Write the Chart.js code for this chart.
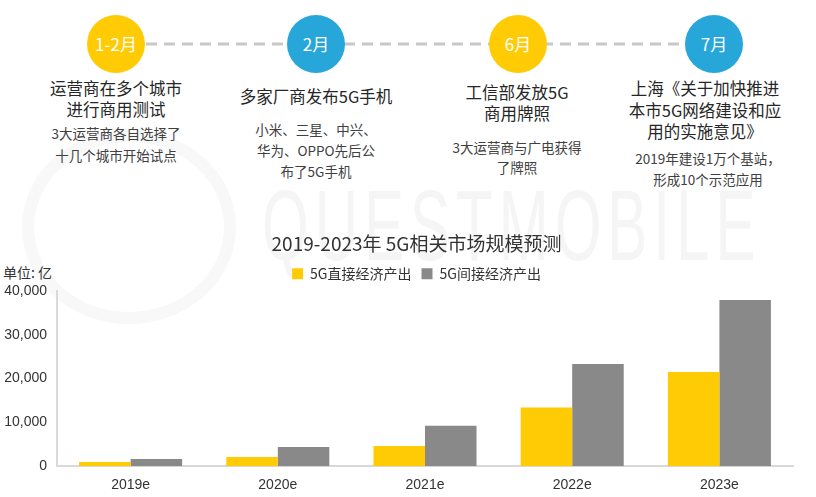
<!DOCTYPE html>
<html lang="zh">
<head>
  <meta charset="UTF-8" />
  <title>2019-2023年 5G相关市场规模预测</title>
  <script src="https://cdn.jsdelivr.net/npm/chart.js"></script>
  <style>
    body {
      margin: 0;
      padding: 0;
      background: #fff;
      font-family: 'Noto Sans CJK SC', sans-serif;
      color: #262626;
    }
    .page {
      position: relative;
      width: 816px;
      height: 497px;
      overflow: hidden;
    }
    /* faint watermark */
    .watermark {
      position: absolute;
      left: 262px;
      top: 168px;
      font-family: 'Liberation Sans', sans-serif;
      font-size: 100px;
      letter-spacing: 10px;
      color: #f5f5f5;
      white-space: nowrap;
      transform: scaleX(0.6);
      transform-origin: left top;
    }
    .ring {
      position: absolute;
      left: 22px;
      top: 130px;
      width: 190px;
      height: 170px;
      border: 12px solid #f8f8f8;
      border-radius: 50%;
    }
    .timeline {
      position: absolute;
      left: 0;
      top: 0;
    }
    .dot {
      position: absolute;
      width: 58px;
      height: 58px;
      border-radius: 50%;
      color: #fff;
      font-size: 17px;
      line-height: 58px;
      text-align: center;
    }
    .yellow { background: #ffcb05; }
    .blue { background: #27a6da; }
    .head, .sub {
      position: absolute;
      width: 220px;
      text-align: center;
      white-space: nowrap;
    }
    .head {
      font-size: 16.5px;
      line-height: 21px;
      color: #262626;
    }
    .sub {
      font-size: 13.5px;
      line-height: 21px;
      color: #404040;
    }
    .unit {
      position: absolute;
      left: 3px;
      top: 262px;
      font-size: 14px;
      color: #333;
    }
    .chart-box {
      position: absolute;
      left: 0;
      top: 225px;
      width: 816px;
      height: 286px;
    }
  </style>
</head>
<body>
  <div class="page">
    <div class="ring"></div>
    <div class="watermark">QUESTMOBILE</div>

    <!-- timeline -->
    <svg class="timeline" width="816" height="90">
      <line x1="146" y1="44" x2="686" y2="44" stroke="#c8c8c8" stroke-width="3" stroke-dasharray="11 7" />
    </svg>
    <div class="dot yellow" style="left:87px; top:15px;">1-2月</div>
    <div class="dot blue" style="left:287px; top:15px;">2月</div>
    <div class="dot yellow" style="left:489px; top:15px;">6月</div>
    <div class="dot blue" style="left:685px; top:15px;">7月</div>

    <div class="head" style="left:6px; top:78px;">运营商在多个城市<br>进行商用测试</div>
    <div class="sub" style="left:6px; top:122px; line-height:22px;">3大运营商各自选择了<br>十几个城市开始试点</div>

    <div class="head" style="left:206px; top:86px;">多家厂商发布5G手机</div>
    <div class="sub" style="left:206px; top:119px;">小米、三星、中兴、<br>华为、OPPO先后公<br>布了5G手机</div>

    <div class="head" style="left:407px; top:82px;">工信部发放5G<br>商用牌照</div>
    <div class="sub" style="left:407px; top:137px; line-height:20px;">3大运营商与广电获得<br>了牌照</div>

    <div class="head" style="left:595px; top:78px; line-height:21.5px;">上海《关于加快推进<br>本市5G网络建设和应<br>用的实施意见》</div>
    <div class="sub" style="left:598px; top:148px;">2019年建设1万个基站，<br>形成10个示范应用</div>

    <div class="unit">单位: 亿</div>
    <div class="chart-box"><canvas id="marketChart"></canvas></div>
  </div>

  <script>
    // data (亿元)
    const years = ['2019e', '2020e', '2021e', '2022e', '2023e'];
    const directOutput = [950, 2100, 4600, 13400, 21500];
    const indirectOutput = [1650, 4400, 9200, 23300, 37900];
    const yTicks = [0, 10000, 20000, 30000, 40000];

    // nudge title + legend right so they sit centred like the original
    const shiftHeader = {
      id: 'shiftHeader',
      afterLayout(chart) {
        [chart.titleBlock, chart.legend].forEach(box => {
          if (box) { box.left += 20; box.right += 20; }
        });
      }
    };

    const ctx = document.getElementById('marketChart').getContext('2d');
    new Chart(ctx, {
      type: 'bar',
      data: {
        labels: years,
        datasets: [
          {
            label: '5G直接经济产出',
            data: directOutput,
            backgroundColor: '#ffcb05',
            categoryPercentage: 0.7,
            barPercentage: 1.0
          },
          {
            label: '5G间接经济产出',
            data: indirectOutput,
            backgroundColor: '#898989',
            categoryPercentage: 0.7,
            barPercentage: 1.0
          }
        ]
      },
      plugins: [shiftHeader],
      options: {
        responsive: true,
        maintainAspectRatio: false,
        animation: false,
        layout: { padding: { left: 0, right: 23, top: 4, bottom: 6 } },
        scales: {
          x: {
            grid: { display: false, drawTicks: false },
            border: { color: '#d9d9d9', width: 2 },
            ticks: {
              color: '#333',
              font: { family: 'Liberation Sans', size: 14 },
              padding: 11
            }
          },
          y: {
            min: 0,
            max: yTicks[yTicks.length - 1],
            afterBuildTicks: axis => { axis.ticks = yTicks.map(v => ({ value: v })); },
            afterFit: axis => { axis.width = 57; },
            grid: { display: false, drawTicks: false },
            border: { color: '#d9d9d9', width: 2 },
            ticks: {
              color: '#333',
              font: { family: 'Liberation Sans', size: 14 },
              padding: 10,
              callback: v => v.toLocaleString('en-US')
            }
          }
        },
        plugins: {
          title: {
            display: true,
            text: '2019-2023年 5G相关市场规模预测',
            color: '#333',
            font: { family: 'Noto Sans CJK SC', size: 19, weight: 'normal' },
            padding: { top: 3, bottom: 2 }
          },
          legend: {
            position: 'top',
            labels: {
              boxWidth: 11,
              boxHeight: 11,
              color: '#333',
              padding: 10,
              font: { family: 'Noto Sans CJK SC', size: 14 }
            }
          },
          tooltip: { enabled: false }
        }
      }
    });
  </script>
</body>
</html>
